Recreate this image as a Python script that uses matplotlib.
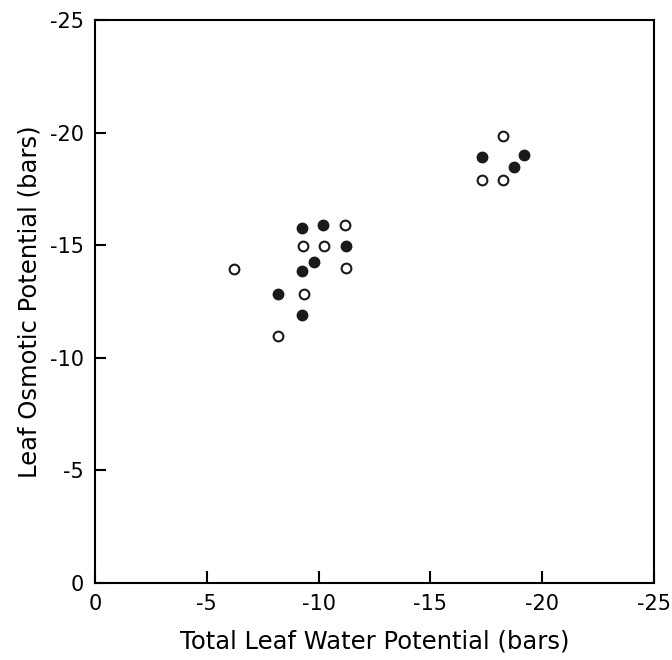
import numpy as np
import matplotlib
matplotlib.use("Agg")
import matplotlib.pyplot as plt

# filled circles (total leaf water potential, leaf osmotic potential), bars
filled_x = [-9.25, -10.2, -11.25, -9.8, -9.25, -8.2, -9.25, -17.3, -19.2, -18.75]
filled_y = [-15.75, -15.9, -14.95, -14.25, -13.85, -12.85, -11.9, -18.9, -19.0, -18.45]

# open circles
open_x = [-11.2, -9.3, -10.25, -6.2, -11.25, -9.35, -8.2, -18.25, -17.3, -18.25]
open_y = [-15.9, -14.95, -14.95, -13.95, -14.0, -12.85, -10.95, -19.85, -17.9, -17.9]

ticks = [0, -5, -10, -15, -20, -25]
tick_labels = ["0", "-5", "-10", "-15", "-20", "-25"]

fig = plt.figure(figsize=(6.72, 6.6), dpi=100)
ax = fig.add_axes([0.1414, 0.1167, 0.8316, 0.853])

ax.plot(filled_x, filled_y, "o", color="#1a1a1a", markersize=7.5, linestyle="none")
ax.plot(open_x, open_y, "o", markerfacecolor="white", markeredgecolor="#1a1a1a",
        markeredgewidth=1.5, markersize=7, linestyle="none")

ax.set_xlim(0, -25)
ax.set_ylim(0, -25)
ax.set_xticks(ticks)
ax.set_xticklabels(tick_labels)
ax.set_yticks(ticks)
ax.set_yticklabels(tick_labels)

ax.tick_params(axis="x", direction="in", length=9, width=1.5, pad=8, labelsize=15)
ax.tick_params(axis="y", direction="in", length=8, width=1.5, pad=8, labelsize=15)
for s in ax.spines.values():
    s.set_linewidth(1.5)

ax.set_xlabel("Total Leaf Water Potential (bars)", fontsize=17.5, labelpad=11)
ax.set_ylabel("Leaf Osmotic Potential (bars)", fontsize=17.5, labelpad=6)

fig.savefig("out.png", dpi=100)
